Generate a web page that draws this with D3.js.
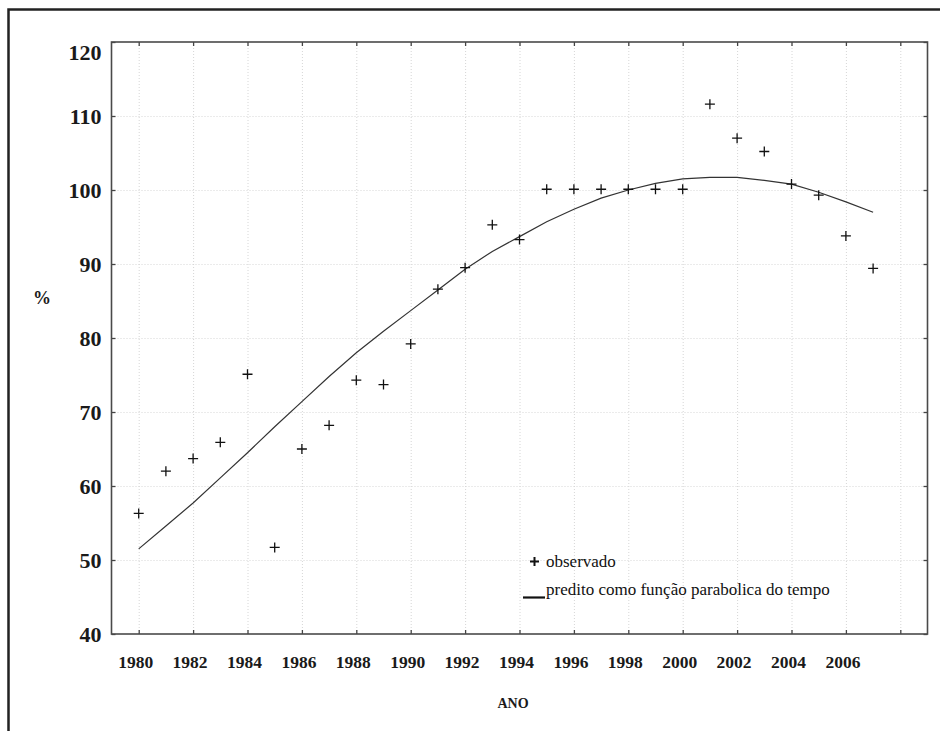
<!DOCTYPE html>
<html>
<head>
<meta charset="utf-8">
<script src="https://cdn.jsdelivr.net/npm/d3@7"></script>
<style>
  html, body { margin: 0; padding: 0; background: #fff; }
  svg { display: block; }
  svg text { font-family: "Liberation Serif", "DejaVu Serif", serif; }
  .grid line { stroke: #d6d6d6; stroke-width: 1; stroke-dasharray: 1,2; }
  .grid path { display: none; }
  .ax path { display: none; }
  .ax line { stroke: #444; stroke-width: 1.3; }
</style>
</head>
<body>
<div id="chart"></div>
<script>
// ── Data ───────────────────────────────────────────────────────────────────
const years = [1980, 1981, 1982, 1983, 1984, 1985, 1986, 1987, 1988, 1989,
               1990, 1991, 1992, 1993, 1994, 1995, 1996, 1997, 1998, 1999,
               2000, 2001, 2002, 2003, 2004, 2005, 2006, 2007];
const observed = [56.3, 62.0, 63.7, 65.9, 75.1, 51.7, 65.0, 68.2, 74.3, 73.7,
                  79.2, 86.6, 89.5, 95.3, 93.3, 100.1, 100.1, 100.1, 100.1, 100.1,
                  100.1, 111.6, 107.0, 105.2, 100.8, 99.3, 93.8, 89.4];
const predicted = [51.5, 54.6, 57.7, 61.1, 64.5, 68.0, 71.4, 74.8, 78.0, 80.9,
                   83.7, 86.5, 89.3, 91.7, 93.7, 95.7, 97.4, 98.9, 100.0, 100.9,
                   101.5, 101.7, 101.7, 101.3, 100.8, 99.7, 98.4, 97.0];

const xTicks = d3.range(1980, 2009, 2);          // 1980 … 2008
const xTickLabels = d3.range(1980, 2007, 2);     // last tick (2008) is unlabelled
const yTicks = [40, 50, 60, 70, 80, 90, 100, 110, 120];

const legendLabels = ['observado', 'predito como função parabolica do tempo'];

// ── Layout ─────────────────────────────────────────────────────────────────
const Wpage = 940, Hpage = 731;
const box = { left: 111.5, right: 927.5, top: 42, bottom: 634 };

const svg = d3.select('#chart').append('svg')
  .attr('width', Wpage).attr('height', Hpage);

// Outer page frame: only top and left edges show.
svg.append('path')
  .attr('d', `M8.5,${Hpage} V9.5 H${Wpage}`)
  .attr('fill', 'none').attr('stroke', '#222').attr('stroke-width', 2.5);

const x = d3.scaleLinear().domain([1979, 2009]).range([box.left, box.right]);
const y = d3.scaleLinear().domain([40, 120]).range([box.bottom, box.top]);
const W = box.right - box.left, H = box.bottom - box.top;

// Grid (dotted)
svg.append('g').attr('class', 'grid')
  .attr('transform', `translate(${box.left},0)`)
  .call(d3.axisLeft(y).tickValues(yTicks.slice(1, -1)).tickSize(-W).tickFormat(''));
svg.append('g').attr('class', 'grid')
  .attr('transform', `translate(0,${box.bottom})`)
  .call(d3.axisBottom(x).tickValues(xTicks).tickSize(-H).tickFormat(''));

// Inward ticks on all four sides
const tk = 4;
svg.append('g').attr('class', 'ax').attr('transform', `translate(0,${box.bottom})`)
  .call(d3.axisBottom(x).tickValues(xTicks).tickSize(-tk).tickFormat(''));
svg.append('g').attr('class', 'ax').attr('transform', `translate(0,${box.top})`)
  .call(d3.axisTop(x).tickValues(xTicks).tickSize(-tk).tickFormat(''));
svg.append('g').attr('class', 'ax').attr('transform', `translate(${box.left},0)`)
  .call(d3.axisLeft(y).tickValues(yTicks).tickSize(-tk).tickFormat(''));
svg.append('g').attr('class', 'ax').attr('transform', `translate(${box.right},0)`)
  .call(d3.axisRight(y).tickValues(yTicks).tickSize(-tk).tickFormat(''));

// Plot frame
svg.append('rect')
  .attr('x', box.left).attr('y', box.top).attr('width', W).attr('height', H)
  .attr('fill', 'none').attr('stroke', '#4a4a4a').attr('stroke-width', 1.6);

// Tick labels
svg.append('g').selectAll('text').data(xTickLabels).enter().append('text')
  .attr('x', d => x(d) - 3).attr('y', 668)
  .attr('text-anchor', 'middle')
  .attr('font-weight', 'bold').attr('font-size', 17.5)
  .attr('fill', '#1a1a1a')
  .text(d => d);

svg.append('g').selectAll('text').data(yTicks).enter().append('text')
  .attr('x', box.left - 10)
  .attr('y', d => y(d) + (d === 120 ? 18 : 7.5))
  .attr('text-anchor', 'end')
  .attr('font-weight', 'bold').attr('font-size', 22)
  .attr('fill', '#1a1a1a')
  .text(d => d);

// Axis titles
svg.append('text')
  .attr('x', 513).attr('y', 708).attr('text-anchor', 'middle')
  .attr('font-weight', 'bold').attr('font-size', 14)
  .attr('fill', '#1a1a1a').text('ANO');
svg.append('text')
  .attr('x', 42).attr('y', 304).attr('text-anchor', 'middle')
  .attr('font-weight', 'bold').attr('font-size', 18)
  .attr('fill', '#1a1a1a').text('%');

// ── Series ─────────────────────────────────────────────────────────────────
const plot = svg.append('g');

plot.append('path')
  .datum(years.map((yr, i) => ({ yr, v: predicted[i] })))
  .attr('fill', 'none').attr('stroke', '#333').attr('stroke-width', 1.2)
  .attr('d', d3.line().x(d => x(d.yr)).y(d => y(d.v)));

plot.selectAll('.obs').data(years.map((yr, i) => ({ yr, v: observed[i] })))
  .enter().append('path')
  .attr('class', 'obs')
  .attr('transform', d => `translate(${x(d.yr)},${y(d.v)})`)
  .attr('d', 'M-5,0H5M0,-5V5')
  .attr('stroke', '#111').attr('stroke-width', 1.3).attr('fill', 'none');

// ── Legend ─────────────────────────────────────────────────────────────────
const lg = svg.append('g');
lg.append('path')
  .attr('transform', 'translate(534.5,561.5)')
  .attr('d', 'M-4.5,0H4.5M0,-4.5V4.5')
  .attr('stroke', '#111').attr('stroke-width', 2);
lg.append('text').attr('x', 546).attr('y', 567)
  .attr('font-size', 17).attr('fill', '#111').text(legendLabels[0]);
lg.append('line')
  .attr('x1', 523).attr('x2', 545).attr('y1', 597.5).attr('y2', 597.5)
  .attr('stroke', '#111').attr('stroke-width', 2.2);
lg.append('text').attr('x', 546).attr('y', 595)
  .attr('font-size', 17).attr('fill', '#111').text(legendLabels[1]);
</script>
</body>
</html>
